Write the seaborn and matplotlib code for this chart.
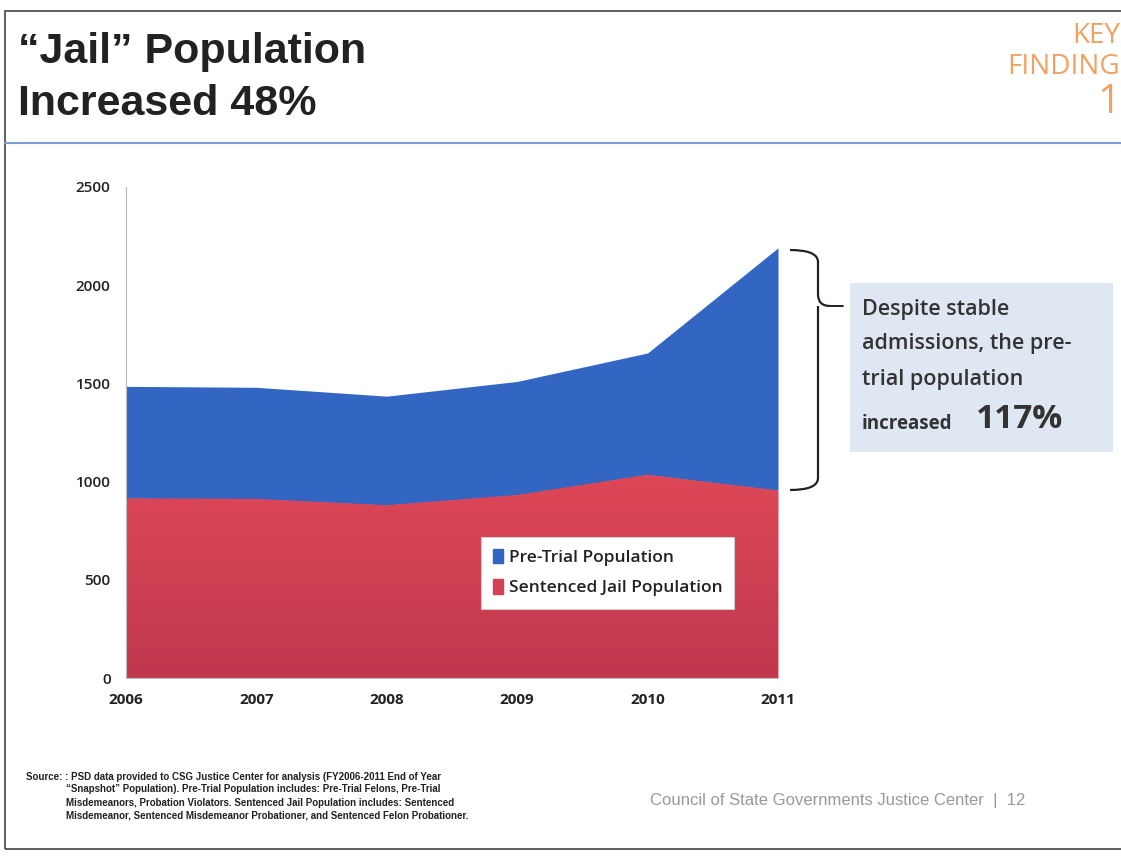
import matplotlib
matplotlib.use("Agg")
import matplotlib.pyplot as plt
from matplotlib.patches import Rectangle, Patch, PathPatch
from matplotlib.path import Path
import seaborn as sns
import pandas as pd
import numpy as np

# data
years = [2006, 2007, 2008, 2009, 2010, 2011]
sentenced = [915, 912, 880, 932, 1035, 955]
pretrial = [570, 568, 555, 578, 620, 1235]
yticks = [0, 500, 1000, 1500, 2000, 2500]

df = pd.DataFrame({"year": years, "sentenced": sentenced, "pretrial": pretrial})

sns.set_theme(style="white")
plt.rcParams["font.family"] = ["Liberation Sans", "DejaVu Sans"]
body_font = ["Open Sans", "DejaVu Sans"]

red = "#d44355"
blue = "#3365c2"

fig = plt.figure(figsize=(11.21, 8.56), dpi=100)
ax = fig.add_axes([126 / 1121, 1 - 678 / 856, 652 / 1121, 491 / 856])

polys = ax.stackplot(df["year"], df["sentenced"], df["pretrial"], colors=[red, blue], linewidth=0)

# soft vertical shading on the red band, like the original slide
top_c = np.array([222, 72, 88]) / 255
bot_c = np.array([192, 56, 78]) / 255
t = np.linspace(0, 1, 256)[:, None]
grad = (bot_c[None, :] * (1 - t) + top_c[None, :] * t)[:, None, :]
img = ax.imshow(grad, extent=[2006, 2011, 0, 1050], origin="lower", aspect="auto", zorder=2)
img.set_clip_path(polys[0].get_paths()[0], transform=ax.transData)

ax.set_xlim(2006, 2011)
ax.set_ylim(0, 2500)
ax.set_xticks(years)
ax.set_yticks(yticks)
ax.set_xticklabels([str(y) for y in years], fontsize=11, fontweight="bold",
                   family=body_font, color="#222222")
ax.set_yticklabels([str(v) for v in yticks], fontsize=11, fontweight="semibold",
                   family=body_font, color="#222222")
for s in ["top", "right"]:
    ax.spines[s].set_visible(False)
for s in ["left", "bottom"]:
    ax.spines[s].set_color("#bbbbbb")
    ax.spines[s].set_linewidth(0.8)
ax.tick_params(axis="both", length=5, color="#bbbbbb", width=0.8, pad=6)

# legend
handles = [Patch(color=blue, label="Pre-Trial Population"),
           Patch(color=red, label="Sentenced Jail Population")]
leg = ax.legend(handles=handles, loc="upper left", bbox_to_anchor=(0.531, 0.305),
                frameon=True, fancybox=False, framealpha=1, handlelength=0.6, handleheight=0.9,
                handletextpad=0.3, borderpad=0.7, labelspacing=0.75,
                prop={"family": body_font, "size": 12.5, "weight": "semibold"})
leg.get_frame().set_facecolor("white")
leg.get_frame().set_edgecolor("#cccccc")
leg.get_frame().set_linewidth(0.8)
leg.set_zorder(5)
for txt in leg.get_texts():
    txt.set_color("#222222")


def fx(px):
    return px / 1121


def fy(py):
    return 1 - py / 856


# slide frame and header
fig.patches.append(Rectangle((fx(5), fy(849)), 1.2, (849 - 11) / 856, transform=fig.transFigure,
                             fill=False, edgecolor="#444444", linewidth=1.2))
fig.add_artist(plt.Line2D([fx(5), 1], [fy(143), fy(143)],
                          transform=fig.transFigure, color="#7a9fd6", linewidth=1.5))
fig.text(fx(18), fy(63), "\u201cJail\u201d Population", fontsize=31, fontweight="bold",
         va="baseline", ha="left", color="#222222")
fig.text(fx(18), fy(115), "Increased 48%", fontsize=31, fontweight="bold",
         va="baseline", ha="left", color="#222222")
orange = "#f2a15f"
fig.text(fx(1120), fy(43), "KEY", fontsize=20, ha="right", va="baseline", color=orange,
         family=body_font)
fig.text(fx(1120), fy(74), "FINDING", fontsize=20, ha="right", va="baseline", color=orange,
         family=body_font)
fig.text(fx(1120), fy(113), "1", fontsize=29, ha="right", va="baseline", color=orange,
         family=body_font)

# brace to the right of the 2011 stack
x0, x1 = 790, 818
top, tip, bot = 250, 306, 490
verts = [(fx(x0), fy(top)), (fx(x1), fy(top)), (fx(x1), fy(top + 12)),
         (fx(x1), fy(tip - 12)), (fx(x1), fy(tip)), (fx(x1 + 12), fy(tip)),
         (fx(x1), fy(tip)), (fx(x1), fy(tip + 12)),
         (fx(x1), fy(bot - 12)), (fx(x1), fy(bot)), (fx(x0), fy(bot))]
codes = [Path.MOVETO, Path.CURVE3, Path.CURVE3,
         Path.LINETO, Path.CURVE3, Path.CURVE3,
         Path.MOVETO, Path.CURVE3,
         Path.LINETO, Path.CURVE3, Path.CURVE3]
fig.patches.append(PathPatch(Path(verts, codes), transform=fig.transFigure, fill=False,
                             edgecolor="#222222", linewidth=1.6))
fig.add_artist(plt.Line2D([fx(x1 + 10), fx(843)], [fy(tip), fy(tip)], transform=fig.transFigure,
                          color="#222222", linewidth=1.4))

# callout box
fig.patches.append(Rectangle((fx(850), fy(452)), (1113 - 850) / 1121, (452 - 283) / 856,
                             transform=fig.transFigure, facecolor="#dfe7f3", edgecolor="none"))
callout = ["Despite stable", "admissions, the pre-", "trial population"]
for i, line in enumerate(callout):
    fig.text(fx(862), fy(309 + i * 35), line, fontsize=15.5, ha="left", va="center",
             color="#333333", family=body_font, fontweight="semibold")
fig.text(fx(862), fy(424), "increased", fontsize=13.5, ha="left", va="center",
         color="#333333", family=body_font, fontweight="bold")
fig.text(fx(976), fy(420), "117%", fontsize=24, ha="left", va="center",
         color="#333333", family=body_font, fontweight="bold")

# footer
source = ["Source: : PSD data provided to CSG Justice Center for analysis (FY2006-2011 End of Year",
          "\u201cSnapshot\u201d Population). Pre-Trial Population includes: Pre-Trial Felons, Pre-Trial",
          "Misdemeanors, Probation Violators. Sentenced Jail Population includes: Sentenced",
          "Misdemeanor, Sentenced Misdemeanor Probationer, and Sentenced Felon Probationer."]
fig.text(fx(26), fy(777), source[0], fontsize=7, fontweight="bold", ha="left", va="center",
         color="#222222")
for i, line in enumerate(source[1:]):
    fig.text(fx(66), fy(789 + i * 13.5), line, fontsize=7, fontweight="bold", ha="left",
             va="center", color="#222222")
fig.text(fx(650), fy(800), "Council of State Governments Justice Center  |  12", fontsize=12,
         ha="left", va="center", color="#999999")

fig.savefig("out.png", dpi=100)
